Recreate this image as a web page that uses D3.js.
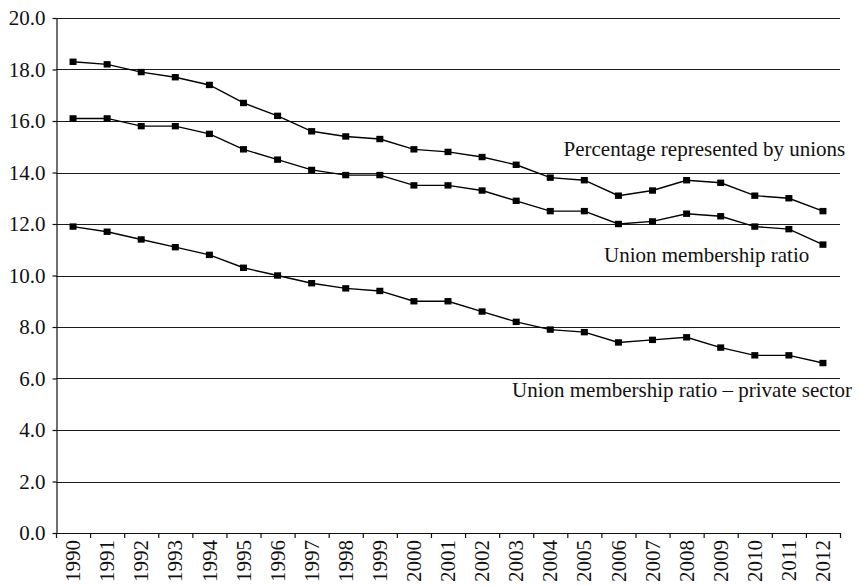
<!DOCTYPE html>
<html>
<head>
<meta charset="utf-8">
<script src="https://cdn.jsdelivr.net/npm/d3@7"></script>
<style>
  html, body { margin: 0; padding: 0; background: #fff; }
  svg { display: block; }
  text { font-family: "Liberation Serif", "DejaVu Serif", serif; fill: #111; }
</style>
</head>
<body>
<svg id="chart" width="859" height="586"></svg>
<script>
const years = ["1990","1991","1992","1993","1994","1995","1996","1997","1998","1999","2000","2001","2002","2003","2004","2005","2006","2007","2008","2009","2010","2011","2012"];
const represented = [18.3,18.2,17.9,17.7,17.4,16.7,16.2,15.6,15.4,15.3,14.9,14.8,14.6,14.3,13.8,13.7,13.1,13.3,13.7,13.6,13.1,13.0,12.5];
const membership = [16.1,16.1,15.8,15.8,15.5,14.9,14.5,14.1,13.9,13.9,13.5,13.5,13.3,12.9,12.5,12.5,12.0,12.1,12.4,12.3,11.9,11.8,11.2];
const privateSector = [11.9,11.7,11.4,11.1,10.8,10.3,10.0,9.7,9.5,9.4,9.0,9.0,8.6,8.2,7.9,7.8,7.4,7.5,7.6,7.2,6.9,6.9,6.6];
const yTicks = [0,2,4,6,8,10,12,14,16,18,20];
const seriesLabels = ["Percentage represented by unions","Union membership ratio","Union membership ratio \u2013 private sector"];

(function () {
const svg = d3.select("#chart");
const pLeft = 56, pRight = 840, pTop = 18, pBottom = 533;
const FS = 21;

const x = d3.scaleBand().domain(years).range([pLeft, pRight]).paddingInner(0).paddingOuter(0);
const y = d3.scaleLinear().domain([0, 20]).range([pBottom, pTop]);
const cx = d => x(d) + x.bandwidth() / 2;

// gridlines
svg.append("g").selectAll("line").data(yTicks.filter(t => t > 0)).join("line")
  .attr("x1", pLeft).attr("x2", pRight)
  .attr("y1", d => Math.round(y(d)) + 0.5).attr("y2", d => Math.round(y(d)) + 0.5)
  .attr("stroke", "#1a1a1a").attr("stroke-width", 1.2);

// y axis
const yAxis = svg.append("g").attr("transform", `translate(${pLeft + 0.5},0)`)
  .call(d3.axisLeft(y).tickValues(yTicks).tickSize(4).tickSizeOuter(0).tickFormat(d => d.toFixed(1)));
yAxis.select(".domain").attr("stroke", "#111").attr("stroke-width", 1.2);
yAxis.selectAll(".tick line").attr("stroke", "#111").attr("stroke-width", 1.2);
yAxis.selectAll(".tick text")
  .attr("font-size", FS).attr("x", -11).attr("dy", "0.33em")
  .attr("text-anchor", "end")
  .style("font-family", "'Liberation Serif', serif").attr("fill", "#111");

// x axis
const xg = svg.append("g");
xg.append("line").attr("x1", pLeft).attr("x2", pRight + 1)
  .attr("y1", pBottom + 0.5).attr("y2", pBottom + 0.5)
  .attr("stroke", "#111").attr("stroke-width", 1.2);
const boundaries = years.map(d => x(d)).concat([x(years[years.length - 1]) + x.bandwidth()]);
xg.selectAll("line.tick").data(boundaries).join("line").attr("class", "tick")
  .attr("x1", d => d + 0.5).attr("x2", d => d + 0.5)
  .attr("y1", pBottom).attr("y2", pBottom + 5)
  .attr("stroke", "#111").attr("stroke-width", 1.2);
xg.selectAll("text").data(years).join("text")
  .attr("transform", d => `translate(${cx(d)},540) rotate(-90)`)
  .attr("text-anchor", "end").attr("dy", "0.34em").attr("font-size", FS)
  .text(d => d);

// series
const line = d3.line().x((d, i) => cx(years[i])).y(d => y(d));
[represented, membership, privateSector].forEach(vals => {
  svg.append("path").datum(vals).attr("d", line)
    .attr("fill", "none").attr("stroke", "#000").attr("stroke-width", 1.4);
  svg.append("g").selectAll("rect").data(vals).join("rect")
    .attr("x", (d, i) => cx(years[i]) - 3.5).attr("y", d => y(d) - 3.2)
    .attr("width", 7).attr("height", 6.4).attr("fill", "#000");
});

// annotations
const ann = [
  { t: seriesLabels[0], x: 563.5, y: 156, a: "start" },
  { t: seriesLabels[1], x: 604, y: 262, a: "start" },
  { t: seriesLabels[2], x: 852, y: 397, a: "end" }
];
svg.append("g").selectAll("text").data(ann).join("text")
  .attr("x", d => d.x).attr("y", d => d.y)
  .attr("text-anchor", d => d.a).attr("font-size", FS)
  .text(d => d.t);
})();
</script>
</body>
</html>
